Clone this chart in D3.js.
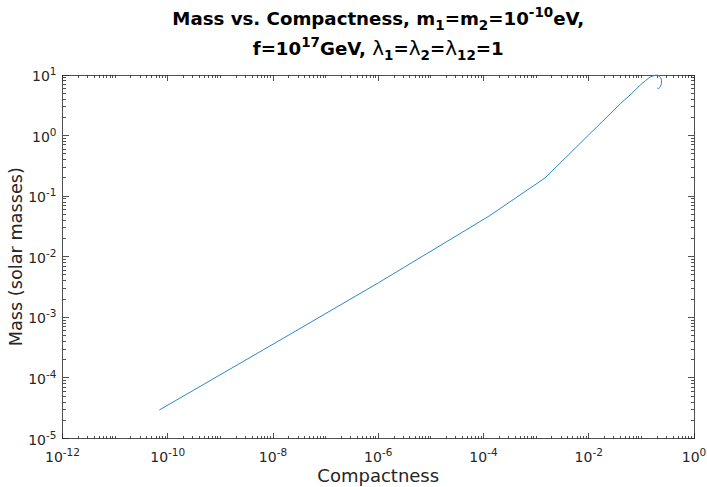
<!DOCTYPE html>
<html><head><meta charset="utf-8">
<script src="https://cdn.jsdelivr.net/npm/d3@7"></script>
<style>body{margin:0;background:#fff}svg{display:block}text{font-family:"DejaVu Sans",sans-serif}</style>
</head><body><svg id="c" width="707" height="487"></svg>
<script>
const compactness = [6.9e-11, 1e-8, 1e-6, 1.23e-4, 1.48e-3, 0.01, 0.04, 0.063, 0.095, 0.12, 0.148, 0.183, 0.204, 0.219, 0.234, 0.242, 0.24, 0.236, 0.224, 0.212, 0.2];
const mass =        [2.95e-5, 3.6e-4, 3.7e-3, 0.046, 0.2, 1.03, 3.36, 4.8, 6.8, 8.1, 9.3, 9.9, 9.9, 9.6, 8.9, 8.2, 7.2, 6.8, 6.25, 5.95, 6.1];
const xTickExps = [-12, -10, -8, -6, -4, -2, 0];
const yTickExps = [-5, -4, -3, -2, -1, 0, 1];

const svg = d3.select("#c");
const L = 62.5, R = 694, T = 75, B = 438.5;
const x = d3.scaleLog().domain([1e-12, 1]).range([L, R]);
const y = d3.scaleLog().domain([1e-5, 10]).range([B, T]);
const axCol = "#262626";

const xMinor = [], yMinor = [];
for (let e = -12; e < 0; e++) for (let k = 1; k < 10; k++) { const v = k * Math.pow(10, e); if (!(k === 1 && xTickExps.includes(e))) xMinor.push(v); }
for (let e = -5; e < 1; e++) for (let k = 2; k < 10; k++) yMinor.push(k * Math.pow(10, e));

const g = svg.append("g").attr("stroke", axCol).attr("stroke-width", 0.8).attr("shape-rendering", "crispEdges");
xMinor.forEach(v => {
  const px = x(v);
  g.append("line").attr("x1", px).attr("x2", px).attr("y1", B).attr("y2", B - 3);
  g.append("line").attr("x1", px).attr("x2", px).attr("y1", T).attr("y2", T + 3);
});
xTickExps.forEach(e => {
  const px = x(Math.pow(10, e));
  g.append("line").attr("x1", px).attr("x2", px).attr("y1", B).attr("y2", B - 6);
  g.append("line").attr("x1", px).attr("x2", px).attr("y1", T).attr("y2", T + 6);
});
yMinor.forEach(v => {
  const py = y(v);
  g.append("line").attr("x1", L).attr("x2", L + 3).attr("y1", py).attr("y2", py);
  g.append("line").attr("x1", R).attr("x2", R - 3).attr("y1", py).attr("y2", py);
});
yTickExps.forEach(e => {
  const py = y(Math.pow(10, e));
  g.append("line").attr("x1", L).attr("x2", L + 6).attr("y1", py).attr("y2", py);
  g.append("line").attr("x1", R).attr("x2", R - 6).attr("y1", py).attr("y2", py);
});
g.append("rect").attr("x", L).attr("y", T).attr("width", R - L).attr("height", B - T).attr("fill", "none");

xTickExps.forEach(e => {
  const t = svg.append("text").attr("x", x(Math.pow(10, e))).attr("y", B + 23).attr("text-anchor", "middle")
    .attr("font-size", 14).attr("fill", axCol);
  t.append("tspan").text("10");
  t.append("tspan").attr("dy", -6).attr("font-size", 10.5).text(e);
});
yTickExps.forEach(e => {
  const t = svg.append("text").attr("x", L - 6).attr("y", y(Math.pow(10, e)) + 6).attr("text-anchor", "end")
    .attr("font-size", 14).attr("fill", axCol);
  t.append("tspan").text("10");
  t.append("tspan").attr("dy", -6).attr("font-size", 10.5).text(e);
});

svg.append("text").attr("x", (L + R) / 2).attr("y", 482).attr("text-anchor", "middle").attr("font-size", 18).attr("fill", axCol).text("Compactness");
svg.append("text").attr("transform", `translate(22,${(T + B) / 2}) rotate(-90)`).attr("text-anchor", "middle").attr("font-size", 17.7).attr("fill", axCol).text("Mass (solar masses)");

const cx = (L + R) / 2;
const t1 = svg.append("text").attr("x", cx).attr("y", 25).attr("text-anchor", "middle").attr("font-size", 18.2).attr("font-weight", "bold").attr("fill", "#000");
t1.append("tspan").text("Mass vs. Compactness, m");
t1.append("tspan").attr("dy", 5).attr("font-size", 13.5).text("1");
t1.append("tspan").attr("dy", -5).text("=m");
t1.append("tspan").attr("dy", 5).attr("font-size", 13.5).text("2");
t1.append("tspan").attr("dy", -5).text("=10");
t1.append("tspan").attr("dy", -8).attr("font-size", 13.5).text("-10");
t1.append("tspan").attr("dy", 8).text("eV,");
const t2 = svg.append("text").attr("x", cx).attr("y", 55).attr("text-anchor", "middle").attr("font-size", 18.2).attr("font-weight", "bold").attr("fill", "#000");
t2.append("tspan").text("f=10");
t2.append("tspan").attr("dy", -8).attr("font-size", 13.5).text("17");
t2.append("tspan").attr("dy", 8).text("GeV, ");
t2.append("tspan").attr("font-weight", "normal").attr("font-size", 20).text("λ");
t2.append("tspan").attr("dy", 5).attr("font-size", 13.5).text("1");
t2.append("tspan").attr("dy", -5).text("=");
t2.append("tspan").attr("font-weight", "normal").attr("font-size", 20).text("λ");
t2.append("tspan").attr("dy", 5).attr("font-size", 13.5).text("2");
t2.append("tspan").attr("dy", -5).text("=");
t2.append("tspan").attr("font-weight", "normal").attr("font-size", 20).text("λ");
t2.append("tspan").attr("dy", 5).attr("font-size", 13.5).text("12");
t2.append("tspan").attr("dy", -5).text("=1");

const pts = compactness.map((c, i) => [c, mass[i]]);
const line = d3.line().x(d => x(d[0])).y(d => y(d[1])).curve(d3.curveLinear);
svg.append("path").datum(pts).attr("d", line).attr("fill", "none").attr("stroke", "#2b88cc").attr("stroke-width", 1).attr("stroke-linejoin", "round");
</script></body></html>
